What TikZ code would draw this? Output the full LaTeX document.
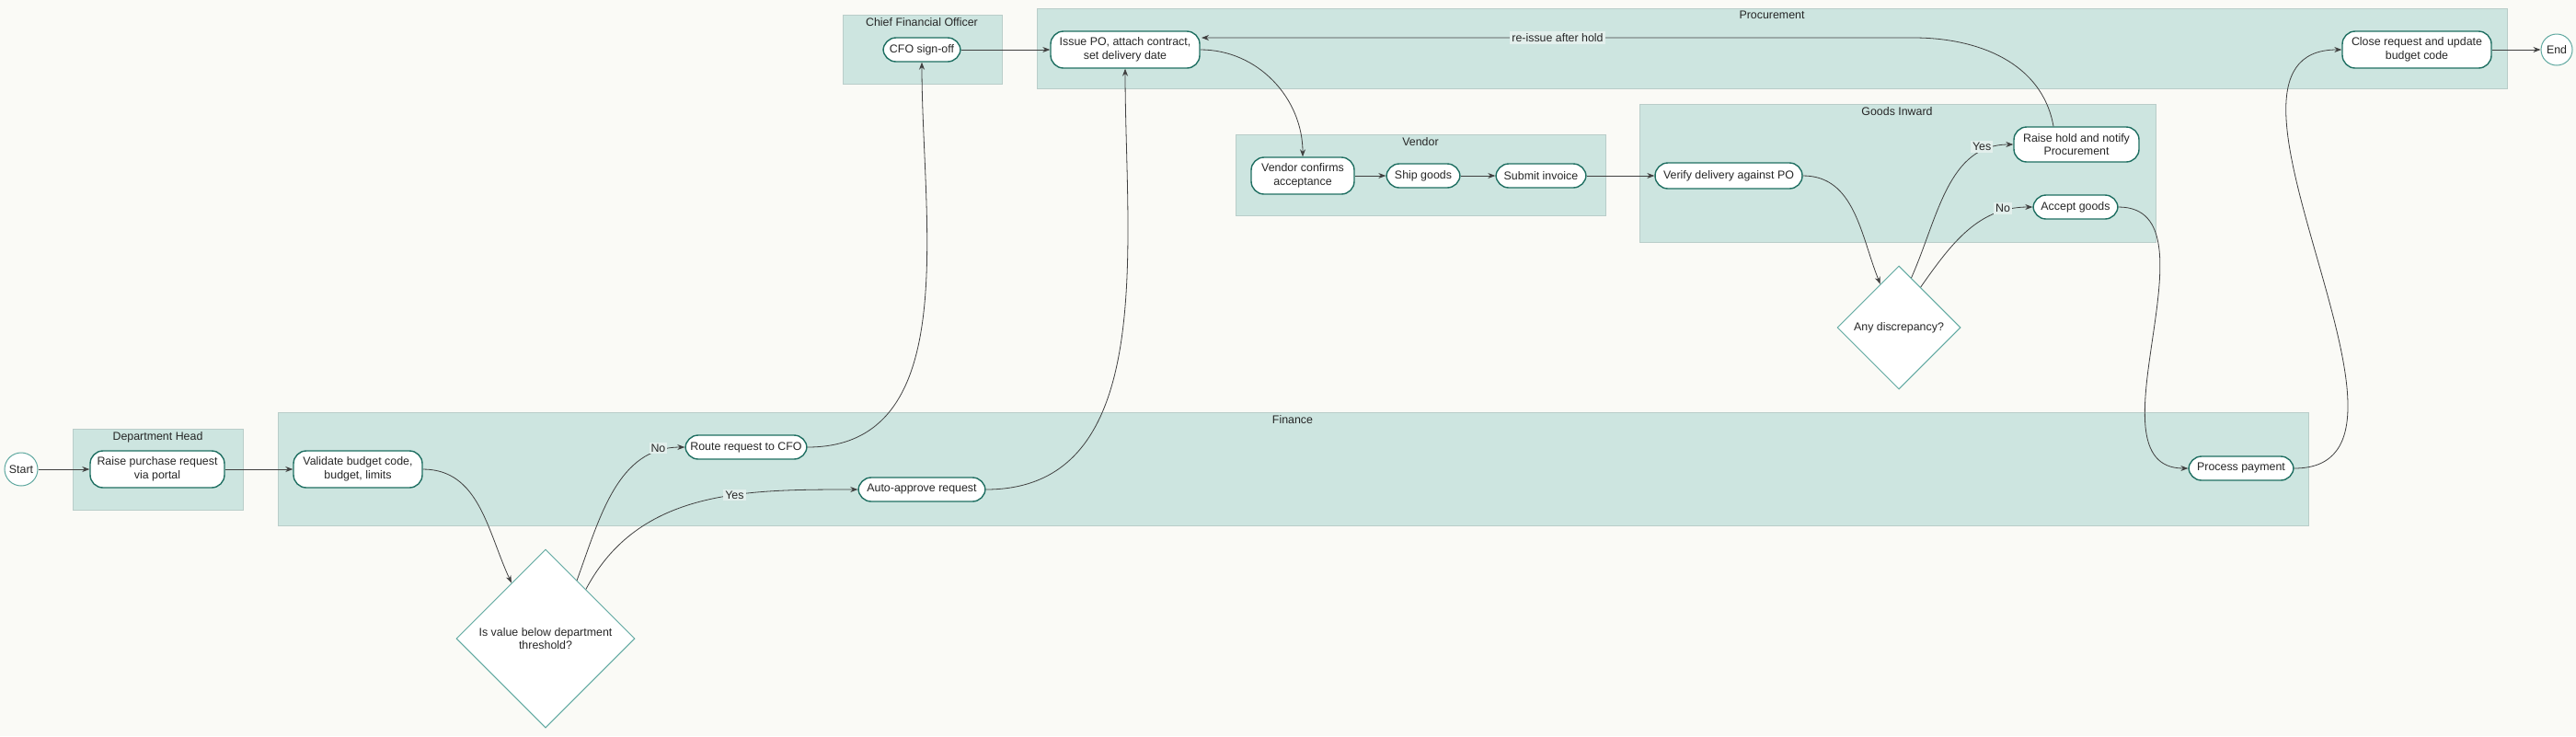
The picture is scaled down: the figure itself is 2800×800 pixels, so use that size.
\documentclass[tikz,border=0pt]{standalone}
\usepackage{fontspec}
\setmainfont{Liberation Sans}
\usetikzlibrary{shapes.geometric,arrows.meta,calc}
\definecolor{bg}{HTML}{FAFAF6}
\definecolor{lane}{HTML}{CDE5E0}
\definecolor{laneb}{HTML}{B9CDC9}
\definecolor{nodeb}{HTML}{1F6F62}
\definecolor{diab}{HTML}{5FA8A0}
\definecolor{lbl}{HTML}{E3EFEC}
\begin{document}
\begin{tikzpicture}[x=0.5pt,y=-0.5pt,
  every node/.style={font=\fontsize{6.2pt}{7.4pt}\selectfont, text=black!85},
  lanebox/.style={draw=laneb,fill=lane,line width=0.4pt},
  lanetitle/.style={anchor=north,inner sep=1pt},
  proc/.style={draw=nodeb,fill=white,rounded corners=7pt,line width=0.7pt,align=center,inner sep=1pt},
  dec/.style={draw=diab,fill=white,diamond,line width=0.5pt,align=center,inner sep=0pt},
  term/.style={draw=diab,fill=white,circle,line width=0.5pt,inner sep=0.5pt},
  conn/.style={draw=black!75,line width=0.4pt,-{Stealth[length=4pt,width=3pt]}},
  lab/.style={fill=lbl,inner sep=1pt}]
\fill[bg] (0,0) rectangle (2800,800);
\useasboundingbox (0,0) rectangle (2800,800);
% lanes
\draw[lanebox] (79,466) rectangle (264,554); \node[lanetitle] (tdh) at (171.5,467) {Department Head};
\draw[lanebox] (302,448) rectangle (2509,571); \node[lanetitle] (tfi) at (1405,449) {Finance};
\draw[lanebox] (916,16) rectangle (1089,91); \node[lanetitle] (tcfo) at (1002,17) {Chief Financial Officer};
\draw[lanebox] (1127,9) rectangle (2725,96); \node[lanetitle] (tpr) at (1926,10) {Procurement};
\draw[lanebox] (1343,146) rectangle (1745,234); \node[lanetitle] (tve) at (1544,147) {Vendor};
\draw[lanebox] (1782,113) rectangle (2343,263); \node[lanetitle] (tgi) at (2062,114) {Goods Inward};
% nodes
\node[term,minimum size=18pt] (start) at (23,510) {Start};
\node[proc,minimum width=73pt,minimum height=20pt] (raise) at (171,510) {Raise purchase request\\via portal};
\node[proc,minimum width=70pt,minimum height=20pt] (valid) at (389,510) {Validate budget code,\\budget, limits};
\node[dec,minimum width=97pt,minimum height=97pt] (d1) at (593,694) {Is value below department\\threshold?};
\node[proc,minimum width=66pt,minimum height=13pt] (route) at (811,486) {Route request to CFO};
\node[proc,minimum width=69pt,minimum height=13pt] (auto) at (1002,532) {Auto-approve request};
\node[proc,minimum width=42pt,minimum height=13pt] (cfo) at (1002,54) {CFO sign-off};
\node[proc,minimum width=81pt,minimum height=20pt] (issue) at (1223,54) {Issue PO, attach contract,\\set delivery date};
\node[proc,minimum width=56pt,minimum height=20pt] (vend) at (1416,191) {Vendor confirms\\acceptance};
\node[proc,minimum width=40pt,minimum height=13pt] (ship) at (1547,191) {Ship goods};
\node[proc,minimum width=49pt,minimum height=13pt] (inv) at (1675,191) {Submit invoice};
\node[proc,minimum width=80pt,minimum height=14pt] (ver) at (1879,191) {Verify delivery against PO};
\node[dec,minimum width=67pt,minimum height=67pt] (d2) at (2064,356) {Any discrepancy?};
\node[proc,minimum width=68pt,minimum height=19pt] (hold) at (2257,157) {Raise hold and notify\\Procurement};
\node[proc,minimum width=46pt,minimum height=13pt] (acc) at (2256,225) {Accept goods};
\node[proc,minimum width=57pt,minimum height=13pt] (pay) at (2436,509) {Process payment};
\node[proc,minimum width=81pt,minimum height=20pt] (close) at (2627,54) {Close request and update\\budget code};
\node[term,minimum size=17pt] (endn) at (2779,54) {End};
% edges
\draw[conn] (start) -- (raise);
\draw[conn] (raise) -- (valid);
\draw[conn] (valid.east) to[out=0,in=115] ($(d1.north)!0.38!(d1.west)$);
\draw[conn] ($(d1.north)!0.35!(d1.east)$) to[out=70,in=180] node[lab,pos=0.93,anchor=east,xshift=-2] (lno1) {No} (route.west);
\draw[conn] ($(d1.north)!0.45!(d1.east)$) to[out=62,in=180] node[lab,pos=0.62] (lyes1) {Yes} (auto.west);
\draw[conn] (route.east) to[out=0,in=-90] (cfo.south);
\draw[conn] (auto.east) to[out=0,in=-90] (issue.south);
\draw[conn] (cfo) -- (issue);
\draw[conn] (issue.east) to[out=0,in=90] (vend.north);
\draw[conn] (vend) -- (ship);
\draw[conn] (ship) -- (inv);
\draw[conn] (inv) -- (ver);
\draw[conn] (ver.east) to[out=0,in=112] ($(d2.north)!0.3!(d2.west)$);
\draw[conn] ($(d2.north)!0.2!(d2.east)$) to[out=66,in=180] node[lab,pos=0.9,anchor=east,xshift=-1] (lyes2) {Yes} (hold.west);
\draw[conn] ($(d2.north)!0.35!(d2.east)$) to[out=55,in=180] node[lab,pos=0.88,anchor=east,xshift=-1] (lno2) {No} (acc.west);
\coordinate (holdtop) at ($(hold.north)+(-25,0)$);
\coordinate (issuetip) at (1306,41);
\draw[conn] (holdtop) to[out=100,in=0] (2080,41) -- node[lab,pos=0.5] (lre) {re-issue after hold} (issuetip);
\draw[conn] (acc.east) to[out=0,in=180] (pay.west);
\draw[conn] (pay.east) to[out=0,in=180] (close.west);
\draw[conn] (close) -- (endn);
\end{tikzpicture}
\end{document}
